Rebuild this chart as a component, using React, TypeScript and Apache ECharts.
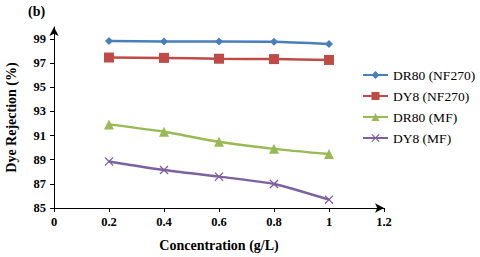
import React, { useEffect, useRef } from "react";
import * as echarts from "echarts";

const concentrations = [0.2, 0.4, 0.6, 0.8, 1.0];
const dr80NF270 = [98.85, 98.8, 98.8, 98.78, 98.6];
const dy8NF270 = [97.47, 97.44, 97.37, 97.34, 97.27];
const dr80MF = [91.93, 91.32, 90.49, 89.9, 89.47];
const dy8MF = [88.86, 88.15, 87.6, 86.99, 85.69];
const yTicks = [85, 87, 89, 91, 93, 95, 97, 99];
const seriesNames = ["DR80 (NF270)", "DY8 (NF270)", "DR80 (MF)", "DY8 (MF)"];

const FONT = "Liberation Serif";
const crossPath =
  "path://M1,0 L5,4 L9,0 L10,1 L6,5 L10,9 L9,10 L5,6 L1,10 L0,9 L4,5 L0,1 Z";

export default function App() {
  const ref = useRef<HTMLDivElement>(null);
  useEffect(() => {
    document.body.style.margin = "0";
    if (!ref.current) return;
    const chart = echarts.init(ref.current, undefined, { renderer: "svg" });
    const mk = (
      name: string,
      vals: number[],
      color: string,
      symbol: string,
      size: number
    ) => ({
      name,
      type: "line",
      data: concentrations.map((c, i) => [c, vals[i]]),
      symbol,
      symbolSize: size,
      smooth: 0.2,
      itemStyle: { color },
      lineStyle: { color, width: 2.5 },
    });
    chart.setOption({
      animation: false,
      textStyle: { fontFamily: FONT },
      graphic: [
        {
          type: "text",
          left: 28,
          top: 4,
          style: { text: "(b)", font: `bold 14px ${FONT}`, fill: "#000" },
        },
      ],
      grid: {
        left: 54,
        right: 96,
        top: 27,
        bottom: 49,
        containLabel: false,
        outerBoundsMode: "none",
      },
      legend: {
        orient: "vertical",
        left: 362,
        top: 68,
        padding: 0,
        itemWidth: 25,
        itemHeight: 10,
        itemGap: 7,
        data: seriesNames,
        textStyle: { fontFamily: FONT, fontSize: 13.5, color: "#000", fontWeight: "normal" },
      },
      xAxis: {
        type: "value",
        min: 0,
        max: 1.2,
        interval: 0.2,
        name: "Concentration (g/L)",
        nameLocation: "middle",
        nameGap: 30,
        nameTextStyle: { fontFamily: FONT, fontSize: 14, fontWeight: "bold", color: "#000" },
        splitLine: { show: false },
        axisLine: {
          lineStyle: { color: "#000", width: 1 },
          symbol: ["none", "arrow"],
          symbolSize: [7, 9],
        },
        axisTick: { show: true, length: 4, lineStyle: { color: "#000" } },
        axisLabel: {
          fontFamily: FONT,
          fontSize: 12.5,
          fontWeight: "bold",
          color: "#000",
          margin: 7,
          formatter: (v: number) => String(Math.round(v * 10) / 10),
        },
      },
      yAxis: {
        type: "value",
        min: 85,
        max: 100,
        name: "Dye Rejection (%)",
        nameLocation: "middle",
        nameGap: 36,
        nameTextStyle: { fontFamily: FONT, fontSize: 14, fontWeight: "bold", color: "#000" },
        splitLine: { show: false },
        axisLine: {
          show: true,
          lineStyle: { color: "#000", width: 1 },
          symbol: ["none", "arrow"],
          symbolSize: [7, 9],
        },
        axisTick: {
          show: true,
          length: 4,
          lineStyle: { color: "#000" },
          customValues: yTicks,
        },
        axisLabel: {
          fontFamily: FONT,
          fontSize: 12.5,
          fontWeight: "bold",
          color: "#000",
          margin: 8,
          customValues: yTicks,
        },
      },
      series: [
        mk(seriesNames[0], dr80NF270, "#4A7EBB", "diamond", 8),
        mk(seriesNames[1], dy8NF270, "#BE4B48", "rect", 10),
        mk(seriesNames[2], dr80MF, "#98B954", "triangle", 10),
        mk(seriesNames[3], dy8MF, "#7D60A0", crossPath, 9),
      ],
    });
    return () => chart.dispose();
  }, []);
  return <div ref={ref} style={{ width: 480, height: 257 }} />;
}
